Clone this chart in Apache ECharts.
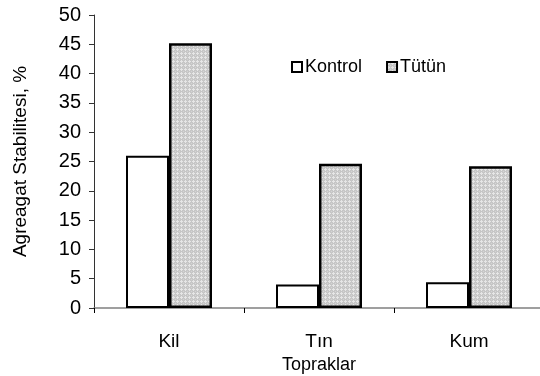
<!DOCTYPE html>
<html><head><meta charset="utf-8">
<script src="https://cdn.jsdelivr.net/npm/echarts@6/dist/echarts.min.js"></script>
<style>html,body{margin:0;padding:0;background:#fff}#c{width:540px;height:376px}</style>
</head><body><div id="c"></div>
<script>
const categories = ['Kil', 'Tın', 'Kum'];
const kontrol = [26.0, 4.0, 4.4];
const tutun = [45.2, 24.6, 24.2];
const seriesNames = ['Kontrol', 'Tütün'];
const yTicks = [0, 5, 10, 15, 20, 25, 30, 35, 40, 45, 50];

function makePattern() {
  const c = document.createElement('canvas');
  c.width = 4; c.height = 4;
  const g = c.getContext('2d');
  g.fillStyle = '#c6c6c6';
  g.fillRect(0, 0, 4, 4);
  g.fillStyle = '#e6e6e6';
  g.fillRect(1, 0, 1, 1);
  g.fillRect(0, 1, 3, 1);
  g.fillRect(1, 2, 1, 1);
  g.fillStyle = '#d4d4d4';
  g.fillRect(3, 3, 1, 1);
  return c;
}
const pat = { image: makePattern(), repeat: 'repeat' };
const FONT = 'Liberation Sans';

const chart = echarts.init(document.getElementById('c'), null, { renderer: 'canvas' });
chart.setOption({
  animation: false,
  backgroundColor: '#fff',
  textStyle: { fontFamily: FONT, color: '#000' },
  grid: { left: 94, top: 15, width: 450, height: 293, containLabel: false, outerBoundsMode: 'none' },
  legend: {
    left: 286, top: 53,
    itemWidth: 10, itemHeight: 10, itemGap: 24,
    icon: 'rect',
    textStyle: { fontFamily: FONT, fontSize: 18, color: '#000', padding: [0, 0, 0, -2] },
    data: [
      { name: seriesNames[0], itemStyle: { color: '#fff', borderColor: '#000', borderWidth: 2 } },
      { name: seriesNames[1], itemStyle: { color: pat, borderColor: '#000', borderWidth: 2 } }
    ]
  },
  xAxis: {
    type: 'category',
    data: categories,
    name: 'Topraklar',
    nameLocation: 'middle',
    nameGap: 43,
    nameTextStyle: { fontFamily: FONT, fontSize: 18, color: '#000' },
    axisLine: { lineStyle: { color: '#808080', width: 1.5 } },
    axisTick: { show: true, length: 5, lineStyle: { color: '#000' } },
    axisLabel: { fontFamily: FONT, fontSize: 19, color: '#000', margin: 24 }
  },
  yAxis: {
    type: 'value',
    min: 0, max: 50, interval: 5,
    name: 'Agreagat Stabilitesi, %',
    nameLocation: 'middle',
    nameGap: 64,
    nameTextStyle: { fontFamily: FONT, fontSize: 19, color: '#000' },
    axisLine: { show: true, lineStyle: { color: '#333', width: 1 } },
    axisTick: { show: true, length: 5, lineStyle: { color: '#333' } },
    splitLine: { show: false },
    axisLabel: {
      fontFamily: FONT, fontSize: 20, color: '#000', margin: 13,
      formatter: v => yTicks.includes(v) ? String(v) : ''
    }
  },
  series: [
    {
      name: seriesNames[0], type: 'bar', data: kontrol,
      barWidth: 43, barGap: '0%',
      itemStyle: { color: '#fff', borderColor: '#000', borderWidth: 2 }
    },
    {
      name: seriesNames[1], type: 'bar', data: tutun,
      barWidth: 43, barGap: '0%',
      itemStyle: { color: pat, borderColor: '#000', borderWidth: 2.5 }
    }
  ]
});
</script></body></html>
